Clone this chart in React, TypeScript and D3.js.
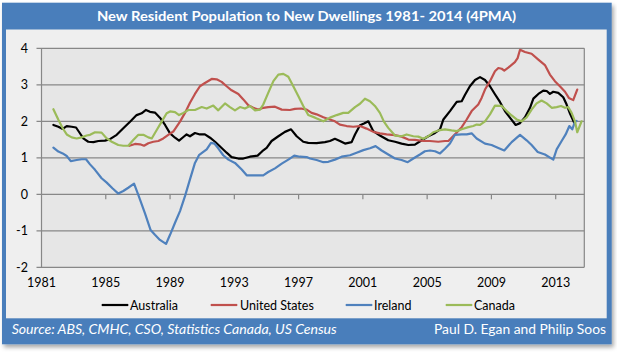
import React from "react";
import * as d3 from "d3";

const TITLE = "New Resident Population to New Dwellings 1981- 2014 (4PMA)";
const SOURCE = "Source: ABS, CMHC, CSO, Statistics Canada, US Census";
const AUTHORS = "Paul D. Egan and Philip Soos";

const yTicks = [4, 3, 2, 1, 0, -1, -2];
const xLabelYears = [1981, 1985, 1989, 1993, 1997, 2001, 2005, 2009, 2013];
const xTickYears = [1985, 1989, 1993, 1997, 2001, 2005, 2009, 2013];

const seriesNames = ["Australia", "United States", "Ireland", "Canada"];
const seriesColors = ["#000000", "#c0504d", "#4f81bd", "#9bbb59"];

const australia: [number, number][] = [
  [1981.74, 1.9], [1982.05, 1.85], [1982.32, 1.79], [1982.57, 1.87], [1982.88, 1.85],
  [1983.15, 1.83], [1983.35, 1.7], [1983.6, 1.53], [1983.91, 1.44], [1984.23, 1.43],
  [1984.54, 1.46], [1984.95, 1.47], [1985.26, 1.51], [1985.68, 1.63], [1986.09, 1.81],
  [1986.51, 1.99], [1986.92, 2.17], [1987.23, 2.22], [1987.5, 2.31], [1987.75, 2.26],
  [1988.06, 2.24], [1988.37, 2.1], [1988.69, 1.9], [1989.0, 1.67], [1989.31, 1.55],
  [1989.56, 1.47], [1989.83, 1.57], [1990.03, 1.64], [1990.24, 1.59], [1990.55, 1.68],
  [1990.86, 1.64], [1991.17, 1.64], [1991.49, 1.55], [1991.8, 1.44], [1992.21, 1.27],
  [1992.52, 1.14], [1992.83, 1.02], [1993.25, 0.98], [1993.56, 0.98], [1993.97, 1.03],
  [1994.45, 1.06], [1994.74, 1.18], [1995.01, 1.27], [1995.32, 1.46], [1995.74, 1.59],
  [1996.15, 1.71], [1996.53, 1.78], [1996.88, 1.59], [1997.29, 1.44], [1997.6, 1.41],
  [1998.12, 1.4], [1998.64, 1.43], [1998.95, 1.46], [1999.26, 1.52], [1999.57, 1.46],
  [1999.89, 1.39], [2000.3, 1.43], [2000.51, 1.64], [2000.82, 1.89], [2001.07, 1.94],
  [2001.34, 2.0], [2001.65, 1.73], [2002.06, 1.61], [2002.58, 1.48], [2003.0, 1.44],
  [2003.41, 1.39], [2003.83, 1.35], [2004.24, 1.36], [2004.66, 1.48], [2005.07, 1.59],
  [2005.49, 1.68], [2005.8, 1.78], [2006.01, 2.05], [2006.42, 2.28], [2006.84, 2.53],
  [2007.15, 2.55], [2007.35, 2.72], [2007.66, 2.96], [2007.98, 3.13], [2008.29, 3.21],
  [2008.6, 3.13], [2008.91, 2.96], [2009.22, 2.74], [2009.53, 2.53], [2009.84, 2.28],
  [2010.15, 2.1], [2010.51, 1.9], [2010.78, 1.95], [2011.09, 2.11], [2011.4, 2.37],
  [2011.61, 2.62], [2011.92, 2.75], [2012.23, 2.84], [2012.44, 2.83], [2012.64, 2.75],
  [2012.85, 2.81], [2013.16, 2.78], [2013.47, 2.66], [2013.68, 2.46], [2013.89, 2.21],
  [2014.16, 1.95],
];

const unitedStates: [number, number][] = [
  [1986.47, 1.33], [1986.82, 1.38], [1987.13, 1.37], [1987.38, 1.33], [1987.65, 1.4],
  [1987.96, 1.44], [1988.27, 1.46], [1988.58, 1.53], [1988.89, 1.63], [1989.2, 1.72],
  [1989.62, 1.99], [1989.93, 2.23], [1990.24, 2.51], [1990.55, 2.75], [1990.86, 2.96],
  [1991.17, 3.05], [1991.59, 3.16], [1991.9, 3.15], [1992.21, 3.08], [1992.52, 2.96],
  [1992.83, 2.85], [1993.25, 2.75], [1993.56, 2.6], [1993.87, 2.44], [1994.18, 2.37],
  [1994.49, 2.32], [1994.8, 2.37], [1995.11, 2.39], [1995.53, 2.4], [1995.95, 2.32],
  [1996.46, 2.31], [1996.77, 2.34], [1997.15, 2.35], [1997.5, 2.32], [1997.81, 2.23],
  [1998.12, 2.19], [1998.54, 2.11], [1998.95, 2.05], [1999.26, 2.0], [1999.57, 1.91],
  [1999.99, 1.87], [2000.4, 1.85], [2000.82, 1.87], [2001.23, 1.8], [2001.65, 1.71],
  [2002.06, 1.67], [2002.48, 1.64], [2002.99, 1.62], [2003.41, 1.58], [2003.83, 1.5],
  [2004.24, 1.49], [2004.76, 1.46], [2005.17, 1.46], [2005.69, 1.44], [2006.11, 1.46],
  [2006.32, 1.46], [2006.52, 1.55], [2006.84, 1.69], [2007.15, 1.84], [2007.46, 2.05],
  [2007.77, 2.28], [2008.18, 2.46], [2008.39, 2.64], [2008.6, 2.87], [2008.91, 3.1],
  [2009.22, 3.37], [2009.43, 3.46], [2009.64, 3.44], [2009.8, 3.39], [2010.05, 3.47],
  [2010.46, 3.62], [2010.63, 3.73], [2010.78, 3.96], [2011.09, 3.9], [2011.5, 3.85],
  [2011.92, 3.69], [2012.33, 3.54], [2012.64, 3.28], [2012.95, 3.1], [2013.26, 2.96],
  [2013.58, 2.81], [2013.82, 2.64], [2014.09, 2.58], [2014.34, 2.87],
];

const ireland: [number, number][] = [
  [1981.74, 1.28], [1982.05, 1.17], [1982.32, 1.12], [1982.57, 1.05], [1982.82, 0.91],
  [1983.19, 0.94], [1983.5, 0.96], [1983.77, 0.96], [1984.02, 0.82], [1984.33, 0.67],
  [1984.74, 0.44], [1985.06, 0.32], [1985.43, 0.16], [1985.78, 0.02], [1986.09, 0.09],
  [1986.4, 0.18], [1986.76, 0.29], [1987.03, -0.02], [1987.44, -0.52], [1987.79, -0.98],
  [1988.06, -1.11], [1988.37, -1.25], [1988.75, -1.36], [1989.0, -1.11], [1989.31, -0.78],
  [1989.62, -0.46], [1989.93, -0.05], [1990.24, 0.41], [1990.55, 0.86], [1990.8, 1.07],
  [1991.07, 1.16], [1991.28, 1.23], [1991.55, 1.41], [1991.76, 1.39], [1992.0, 1.26],
  [1992.31, 1.07], [1992.63, 0.95], [1993.04, 0.86], [1993.46, 0.68], [1993.77, 0.52],
  [1994.29, 0.52], [1994.8, 0.52], [1995.11, 0.61], [1995.53, 0.71], [1995.95, 0.84],
  [1996.36, 0.95], [1996.73, 1.06], [1997.08, 1.03], [1997.5, 1.02], [1997.71, 0.98],
  [1998.12, 0.94], [1998.54, 0.88], [1998.85, 0.89], [1999.26, 0.95], [1999.68, 1.03],
  [2000.2, 1.07], [2000.61, 1.14], [2001.03, 1.21], [2001.44, 1.26], [2001.79, 1.32],
  [2002.17, 1.2], [2002.58, 1.09], [2003.0, 0.98], [2003.41, 0.94], [2003.79, 0.88],
  [2004.14, 0.98], [2004.55, 1.09], [2004.86, 1.18], [2005.18, 1.2], [2005.49, 1.18],
  [2005.8, 1.12], [2006.11, 1.25], [2006.42, 1.39], [2006.73, 1.63], [2007.15, 1.64],
  [2007.46, 1.64], [2007.77, 1.67], [2008.08, 1.53], [2008.6, 1.39], [2009.01, 1.35],
  [2009.43, 1.27], [2009.8, 1.2], [2010.26, 1.43], [2010.78, 1.63], [2011.19, 1.48],
  [2011.5, 1.35], [2011.88, 1.16], [2012.33, 1.09], [2012.85, 0.95], [2013.06, 1.23],
  [2013.37, 1.46], [2013.62, 1.64], [2013.85, 1.87], [2014.03, 1.78], [2014.2, 1.99],
  [2014.3, 2.01],
];

const canada: [number, number][] = [
  [1981.74, 2.33], [1982.05, 2.04], [1982.32, 1.81], [1982.57, 1.64], [1982.88, 1.56],
  [1983.19, 1.53], [1983.5, 1.56], [1983.81, 1.61], [1984.02, 1.63], [1984.33, 1.7],
  [1984.74, 1.69], [1985.06, 1.53], [1985.37, 1.44], [1985.78, 1.35], [1986.09, 1.33],
  [1986.4, 1.33], [1986.71, 1.49], [1987.03, 1.63], [1987.34, 1.63], [1987.65, 1.56],
  [1987.86, 1.53], [1988.17, 1.76], [1988.48, 1.99], [1988.79, 2.22], [1989.0, 2.27],
  [1989.31, 2.25], [1989.56, 2.17], [1989.83, 2.23], [1990.14, 2.31], [1990.55, 2.31],
  [1990.97, 2.39], [1991.28, 2.35], [1991.69, 2.43], [1992.0, 2.3], [1992.42, 2.49],
  [1992.73, 2.39], [1993.04, 2.3], [1993.35, 2.39], [1993.66, 2.35], [1993.97, 2.42],
  [1994.29, 2.3], [1994.6, 2.32], [1994.8, 2.46], [1995.11, 2.78], [1995.43, 3.1],
  [1995.74, 3.28], [1996.05, 3.3], [1996.36, 3.22], [1996.67, 2.96], [1996.98, 2.69],
  [1997.29, 2.42], [1997.6, 2.17], [1998.02, 2.1], [1998.54, 2.0], [1998.95, 2.1],
  [1999.37, 2.17], [1999.78, 2.23], [2000.09, 2.23], [2000.51, 2.39], [2000.82, 2.48],
  [2001.13, 2.62], [2001.44, 2.55], [2001.75, 2.42], [2002.06, 2.23], [2002.31, 1.99],
  [2002.58, 1.82], [2003.0, 1.61], [2003.41, 1.59], [2003.72, 1.64], [2004.14, 1.59],
  [2004.45, 1.58], [2004.76, 1.52], [2005.07, 1.59], [2005.38, 1.7], [2005.8, 1.76],
  [2006.11, 1.78], [2006.52, 1.75], [2006.84, 1.73], [2007.15, 1.78], [2007.56, 1.84],
  [2007.87, 1.87], [2008.08, 1.91], [2008.29, 1.9], [2008.6, 2.0], [2008.91, 2.19],
  [2009.22, 2.43], [2009.64, 2.42], [2009.95, 2.28], [2010.26, 2.16], [2010.57, 2.05],
  [2010.88, 2.0], [2011.19, 2.11], [2011.5, 2.32], [2011.81, 2.49], [2012.12, 2.57],
  [2012.44, 2.49], [2012.75, 2.37], [2013.06, 2.39], [2013.33, 2.42], [2013.58, 2.37],
  [2013.78, 2.39], [2013.99, 2.23], [2014.2, 2.0], [2014.34, 1.7], [2014.61, 2.0],
];

const seriesData = [australia, unitedStates, ireland, canada];

const W = 617;
const H = 352;
const BLUE = "#4a7ebb";
const FONT = "Lato, 'Open Sans', sans-serif";

export default function App() {
  const plot = { left: 41.5, right: 584.3, top: 48.3, bottom: 267.3 };
  const x = d3.scaleLinear().domain([1981, 2014.78]).range([plot.left, plot.right]);
  const y = d3.scaleLinear().domain([-2, 4]).range([plot.bottom, plot.top]);
  const line = d3
    .line<[number, number]>()
    .x((d) => x(d[0]))
    .y((d) => y(d[1]));

  const legendItems = [
    { lx: 101.7, tx: 130 },
    { lx: 210.7, tx: 240 },
    { lx: 345.7, tx: 374 },
    { lx: 445.7, tx: 474 },
  ];

  return (
    <svg
      width={W}
      height={H}
      style={{ position: "absolute", left: 0, top: 0, display: "block" }}
      fontFamily={FONT}
    >
      <defs>
        <filter id="shadow" x="-5%" y="-5%" width="110%" height="115%">
          <feDropShadow dx="2" dy="3" stdDeviation="2" floodColor="#000" floodOpacity="0.35" />
        </filter>
      </defs>
      <rect x={0} y={0} width={W} height={H} fill="#ffffff" />
      {/* outer frame */}
      <rect x={2} y={2.7} width={609.7} height={341.6} fill={BLUE} filter="url(#shadow)" />
      {/* inner panel */}
      <rect x={6} y={29.5} width={600.7} height={288.8} fill="#efefef" />
      {/* title */}
      <text
        x={306.5}
        y={21}
        textAnchor="middle"
        fill="#ffffff"
        fontWeight="bold"
        fontSize={13.8}
        textLength={419}
        lengthAdjust="spacingAndGlyphs"
      >
        {TITLE}
      </text>

      {/* plot area */}
      <rect
        x={plot.left}
        y={plot.top}
        width={plot.right - plot.left}
        height={plot.bottom - plot.top}
        fill="#e6e6e6"
      />
      {yTicks.map((t) => (
        <g key={"g" + t}>
          <line x1={plot.left - 5} x2={plot.right} y1={y(t)} y2={y(t)} stroke="#878787" strokeWidth={1.2} />
          <text x={28} y={y(t)} dy="0.36em" textAnchor="end" fontSize={12.5} fill="#000">
            {t < 0 ? "-" + Math.abs(t) : String(t)}
          </text>
        </g>
      ))}
      <line x1={plot.left} x2={plot.left} y1={plot.top} y2={plot.bottom} stroke="#878787" strokeWidth={1.2} />
      <line x1={plot.right} x2={plot.right} y1={plot.top} y2={plot.bottom} stroke="#878787" strokeWidth={1.2} />
      {xTickYears.map((yr) => (
        <line key={"t" + yr} x1={x(yr)} x2={x(yr)} y1={y(0)} y2={y(0) + 5} stroke="#878787" strokeWidth={1.2} />
      ))}
      {xLabelYears.map((yr) => (
        <text key={"l" + yr} x={x(yr)} y={287} textAnchor="middle" fontSize={12.5} fill="#000">
          {yr}
        </text>
      ))}

      {/* lines: draw in reverse so Australia on top */}
      {seriesData.map((d, i) => (
        <path
          key={seriesNames[i]}
          d={line(d) || ""}
          fill="none"
          stroke={seriesColors[i]}
          strokeWidth={2.2}
          strokeLinejoin="round"
          strokeLinecap="round"
        />
      ))}

      {/* legend */}
      {legendItems.map((it, i) => (
        <g key={"lg" + i}>
          <line x1={it.lx} x2={it.lx + 26.6} y1={305} y2={305} stroke={seriesColors[i]} strokeWidth={2.2} />
          <text x={it.tx} y={309.5} fontSize={12.5} fill="#000">
            {seriesNames[i]}
          </text>
        </g>
      ))}

      {/* footer */}
      <text
        x={11.7}
        y={334}
        fill="#ffffff"
        fontStyle="italic"
        fontSize={13.5}
        textLength={325}
        lengthAdjust="spacingAndGlyphs"
      >
        {SOURCE}
      </text>
      <text
        x={606}
        y={334}
        textAnchor="end"
        fill="#ffffff"
        fontSize={13.5}
        textLength={172}
        lengthAdjust="spacingAndGlyphs"
      >
        {AUTHORS}
      </text>
    </svg>
  );
}
